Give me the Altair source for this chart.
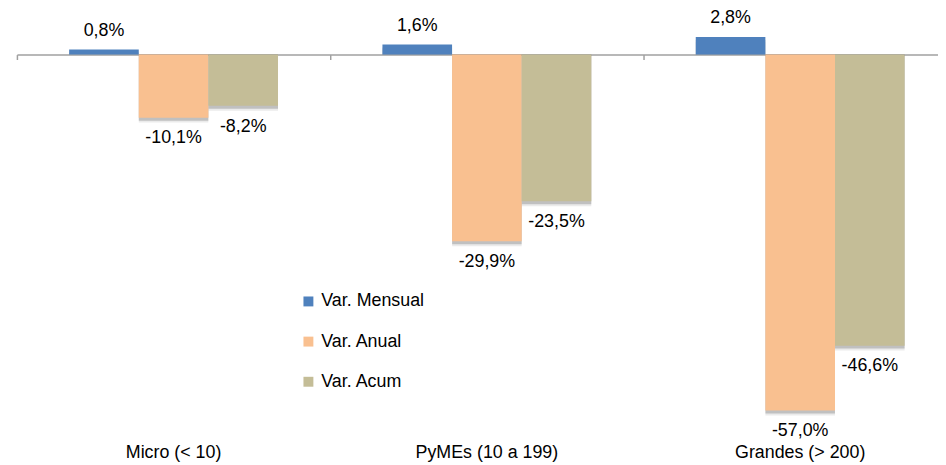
import altair as alt
import pandas as pd

categories = ["Micro (< 10)", "PyMEs (10 a 199)", "Grandes (> 200)"]
series = ["Var. Mensual", "Var. Anual", "Var. Acum"]
var_mensual = [0.8, 1.6, 2.8]
var_anual = [-10.1, -29.9, -57.0]
var_acum = [-8.2, -23.5, -46.6]
colors = ["#4F81BD", "#F9C090", "#C4BD97"]

rows = []
for i, c in enumerate(categories):
    for s, vals in zip(series, [var_mensual, var_anual, var_acum]):
        v = vals[i]
        rows.append({"cat": c, "serie": s, "val": v,
                     "label": f"{v:.1f}".replace(".", ",") + "%"})
df = pd.DataFrame(rows)
cat_df = pd.DataFrame({"cat": categories})

FONT = "Liberation Sans"
FS = 18
W, H = 929, 430
PX = 6.3          # pixels per percentage point
ZERO = 45         # pixel position of zero from the top of the plot
ymax = ZERO / PX
ymin = -(H - ZERO) / PX

x = alt.X("cat:N", sort=categories,
          scale=alt.Scale(domain=categories, range=[0, 948],
                          paddingInner=0, paddingOuter=0),
          axis=alt.Axis(title=None, labels=False, grid=False,
                        domainColor="#A0A0A0", domainWidth=1.5,
                        tickColor="#A0A0A0", tickWidth=1.5, tickSize=5,
                        tickBand="extent", offset=-(H - ZERO)))
xo = alt.XOffset("serie:N", sort=series,
                 scale=alt.Scale(domain=series, paddingInner=0, paddingOuter=0.75))
y = alt.Y("val:Q", scale=alt.Scale(domain=[ymin, ymax], nice=False, zero=False),
          axis=None)
color = alt.Color("serie:N", sort=series,
                  scale=alt.Scale(domain=series, range=colors),
                  legend=alt.Legend(title=None, orient="none", legendX=285, legendY=285,
                                    symbolType="square", symbolSize=100,
                                    symbolStrokeWidth=0, labelFont=FONT,
                                    labelFontSize=FS, labelColor="#000",
                                    labelOffset=4, rowPadding=22.5, padding=0))

base = alt.Chart(df)

shadow1 = base.mark_bar(color="#000", opacity=0.18, xOffset=3, yOffset=3).encode(
    x=x, xOffset=xo, y=y, y2=alt.datum(0))
shadow2 = base.mark_bar(color="#000", opacity=0.08, xOffset=5, yOffset=5).encode(
    x=x, xOffset=xo, y=y, y2=alt.datum(0))
bars = base.mark_bar().encode(x=x, xOffset=xo, y=y, y2=alt.datum(0), color=color)

pos_labels = base.transform_filter("datum.val >= 0").mark_text(
    font=FONT, fontSize=FS, color="#000", baseline="middle", dy=-19).encode(
    x=x, xOffset=xo, y=y, text="label:N")
neg_labels = base.transform_filter("datum.val < 0").mark_text(
    font=FONT, fontSize=FS, color="#000", baseline="middle", dy=21).encode(
    x=x, xOffset=xo, y=y, text="label:N")

cat_labels = alt.Chart(cat_df).mark_text(
    font=FONT, fontSize=FS, color="#000", baseline="alphabetic").encode(
    x=x, y=alt.value(H + 22), text="cat:N")

chart = alt.layer(shadow2, shadow1, bars, pos_labels, neg_labels, cat_labels).properties(
    width=W, height=H,
    padding={"left": 9, "top": 0, "right": 0, "bottom": 27},
    autosize=alt.AutoSizeParams(type="none"),
).configure_view(stroke=None)

chart.save("out.html", embed_options={"renderer": "svg", "actions": False})
